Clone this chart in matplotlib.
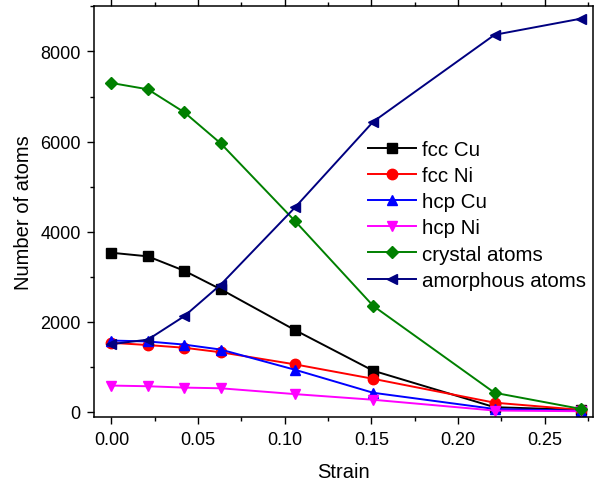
import numpy as np
import matplotlib.pyplot as plt
from matplotlib.ticker import MultipleLocator

plt.rcParams['font.family'] = ['Liberation Sans', 'DejaVu Sans']

# strain values
strain = [0.0, 0.021, 0.042, 0.063, 0.106, 0.151, 0.221, 0.271]

fcc_cu = [3530, 3450, 3130, 2720, 1810, 910, 100, 40]
fcc_ni = [1530, 1480, 1420, 1320, 1050, 730, 200, 40]
hcp_cu = [1580, 1560, 1490, 1380, 930, 420, 60, 20]
hcp_ni = [580, 565, 535, 520, 390, 265, 25, 10]
crystal = [7300, 7160, 6650, 5960, 4230, 2350, 420, 60]
amorph = [1500, 1600, 2120, 2820, 4540, 6440, 8370, 8730]

labels = ['fcc Cu', 'fcc Ni', 'hcp Cu', 'hcp Ni', 'crystal atoms', 'amorphous atoms']
colors = ['black', '#FF0000', '#0000FF', '#FF00FF', '#008000', '#000080']
markers = ['s', 'o', '^', 'v', 'D', '<']
msizes = [6.5, 7.5, 7.5, 7.5, 6.5, 7.5]

fig = plt.figure(figsize=(5.94, 4.85), dpi=100)
ax = fig.add_axes([0.159, 0.1375, 0.839, 0.849])

series = [fcc_cu, fcc_ni, hcp_cu, hcp_ni, crystal, amorph]
for y, lab, c, m, ms in zip(series, labels, colors, markers, msizes):
    ax.plot(strain, y, color=c, marker=m, markersize=ms, linewidth=1.4, label=lab)

ax.set_xlim(-0.0098, 0.2777)
ax.set_ylim(-125, 9020)
ax.xaxis.set_major_locator(MultipleLocator(0.05))
ax.xaxis.set_minor_locator(MultipleLocator(0.025))
ax.yaxis.set_major_locator(MultipleLocator(2000))
ax.yaxis.set_minor_locator(MultipleLocator(1000))
ax.xaxis.set_major_formatter(plt.FormatStrFormatter('%.2f'))

ax.tick_params(which='major', direction='out', length=5, width=1, labelsize=13, pad=5,
               top=True, labeltop=False)
ax.tick_params(which='minor', direction='out', length=3, width=1, top=True)
for s in ax.spines.values():
    s.set_linewidth(1.1)

ax.set_xlabel('Strain', fontsize=14.5, labelpad=10)
ax.set_ylabel('Number of atoms', fontsize=14.5, labelpad=5)

ax.legend(loc='upper left', bbox_to_anchor=(0.533, 0.694), frameon=False,
          fontsize=14.8, handlelength=2.3, labelspacing=0.35, borderaxespad=0,
          handletextpad=0.3)

fig.savefig('out.png', dpi=100)
